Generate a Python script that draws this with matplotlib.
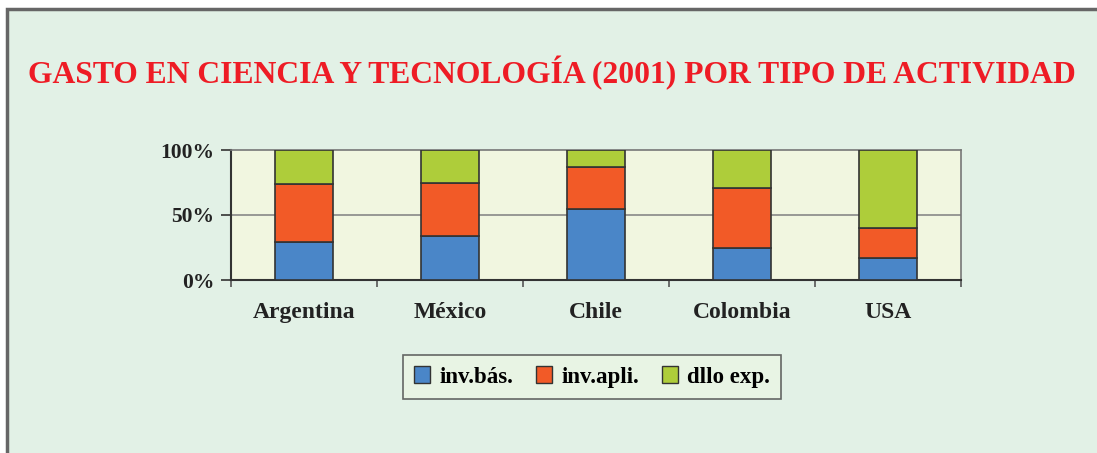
import matplotlib
matplotlib.use('Agg')
import matplotlib.pyplot as plt
from matplotlib.patches import Rectangle, Patch
import numpy as np

# data (percent of total spending per country)
paises = ['Argentina', 'México', 'Chile', 'Colombia', 'USA']
inv_basica = [29, 34, 55, 25, 17]
inv_aplicada = [45, 41, 32, 46, 23]
dllo_exp = [26, 25, 13, 29, 60]
series_labels = ['inv.bás.', 'inv.apli.', 'dllo exp.']
colores = ['#4A86C8', '#F25A27', '#AECD3A']

W, H = 1097, 453
fig = plt.figure(figsize=(W / 100, H / 100), dpi=100)
fig.patch.set_facecolor('white')

# framed background panel
fig.patches.append(Rectangle((6.5 / W, -0.05), 1.1, (H - 9.5) / H + 0.05,
                             transform=fig.transFigure, facecolor='#E2F1E6',
                             edgecolor='#666666', linewidth=2.5, zorder=-5))

serif = ['Liberation Serif', 'DejaVu Serif']

fig.text(552 / W, 1 - 73 / H, 'GASTO EN CIENCIA Y TECNOLOGÍA (2001) POR TIPO DE ACTIVIDAD',
         ha='center', va='center', color='#EE1C25', fontsize=22.8,
         fontweight='bold', family=serif)

ax = fig.add_axes([231 / W, 1 - 280 / H, 730 / W, 130 / H])
ax.set_facecolor('#F1F6E0')

x = np.arange(len(paises))
bottom = np.zeros(len(paises))
for vals, col in zip([inv_basica, inv_aplicada, dllo_exp], colores):
    ax.bar(x, vals, width=0.4, bottom=bottom, color=col,
           edgecolor='#333333', linewidth=1.2, zorder=3)
    bottom += np.array(vals)

ax.set_xlim(-0.5, len(paises) - 0.5)
ax.set_ylim(0, 100)
ax.set_yticks([0, 50, 100])
ax.set_yticklabels(['0%', '50%', '100%'])
ax.axhline(50, color='#888888', linewidth=1.2, zorder=1)

ax.set_xticks(x)
ax.set_xticklabels(paises)
ax.set_xticks(np.arange(len(paises) + 1) - 0.5, minor=True)
ax.tick_params(axis='x', which='major', length=0, pad=16)
ax.tick_params(axis='x', which='minor', length=5, width=1.2, color='#555555', direction='out')
ax.tick_params(axis='y', length=7, width=1.2, color='#333333', direction='out', pad=5)

for lab in ax.get_xticklabels():
    lab.set_fontfamily(serif)
    lab.set_fontweight('bold')
    lab.set_fontsize(17)
    lab.set_color('#222222')
for lab in ax.get_yticklabels():
    lab.set_fontfamily(serif)
    lab.set_fontweight('bold')
    lab.set_fontsize(15.5)
    lab.set_color('#222222')

ax.spines['left'].set_color('#333333')
ax.spines['left'].set_linewidth(1.5)
ax.spines['bottom'].set_color('#333333')
ax.spines['bottom'].set_linewidth(1.5)
ax.spines['top'].set_color('#777777')
ax.spines['top'].set_linewidth(1.2)
ax.spines['right'].set_color('#777777')
ax.spines['right'].set_linewidth(1.2)

handles = [Patch(facecolor=c, edgecolor='#333333', linewidth=1) for c in colores]
leg = fig.legend(handles, series_labels, loc='center', bbox_to_anchor=(592 / W, 1 - 377 / H),
                 ncol=3, frameon=True, fancybox=False, handlelength=0.7, handleheight=0.7,
                 handletextpad=0.4, columnspacing=1.0, borderpad=0.5,
                 prop={'family': serif, 'weight': 'bold', 'size': 16.5})
leg.get_frame().set_facecolor('#EAF5E4')
leg.get_frame().set_edgecolor('#444444')
leg.get_frame().set_linewidth(1.2)

fig.savefig('out.png', dpi=100, facecolor=fig.get_facecolor())
